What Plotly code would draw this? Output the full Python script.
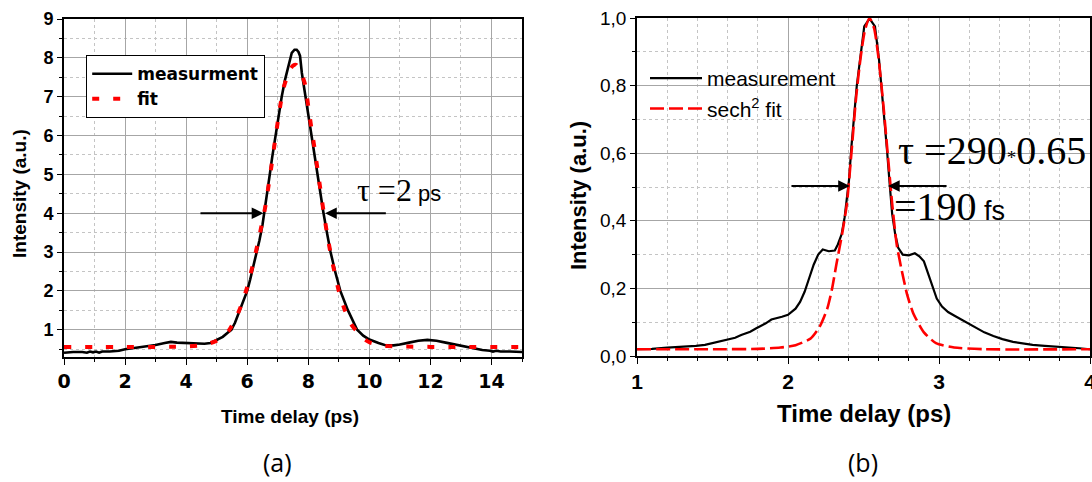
import plotly.graph_objects as go

# ---------------- data ----------------
# (a) autocorrelation, ps
meas_a_x = [0.0, 0.3, 0.6, 0.75, 0.85, 0.95, 1.05, 1.15, 1.25, 1.5,
            1.8, 2.0, 2.3, 2.6, 3.0, 3.3, 3.5, 3.7, 4.0, 4.3,
            4.6, 4.8, 5.0, 5.2, 5.35, 5.48, 5.6, 5.7, 5.8, 5.9,
            6.0, 6.1, 6.2, 6.3, 6.4, 6.5, 6.55, 6.65, 6.74, 6.82,
            6.91, 7.02, 7.13, 7.24, 7.35, 7.46, 7.55, 7.62, 7.68, 7.73,
            7.79, 7.9, 8.0, 8.1, 8.2, 8.3, 8.4, 8.5, 8.6, 8.73,
            8.88, 9.05, 9.3, 9.6, 9.8, 10.0, 10.3, 10.5, 10.8, 11.0,
            11.3, 11.6, 11.9, 12.2, 12.5, 12.8, 13.1, 13.4, 13.7, 13.95,
            14.05, 14.15, 14.3, 14.6, 15.0]
meas_a_y = [0.41, 0.43, 0.43, 0.41, 0.44, 0.42, 0.44, 0.41, 0.44, 0.44,
            0.46, 0.50, 0.53, 0.56, 0.61, 0.66, 0.69, 0.67, 0.66, 0.65,
            0.64, 0.66, 0.74, 0.82, 0.92, 1.0, 1.18, 1.38, 1.6, 1.8,
            2.0, 2.3, 2.62, 2.95, 3.3, 3.7, 4.0, 4.5, 5.0, 5.45,
            5.9, 6.5, 7.0, 7.44, 7.78, 8.13, 8.21, 8.21, 8.15, 8.05,
            7.61, 7.05, 6.5, 5.95, 5.5, 5.0, 4.5, 4.0, 3.55, 3.0,
            2.5, 2.0, 1.5, 1.0, 0.85, 0.75, 0.66, 0.61, 0.60, 0.62,
            0.67, 0.72, 0.74, 0.72, 0.67, 0.62, 0.57, 0.52, 0.48, 0.46,
            0.44, 0.46, 0.44, 0.44, 0.43]

fit_a_x = [0.0, 1.0, 2.0, 3.0, 3.5, 4.0, 4.5, 4.8, 5.0, 5.2,
           5.4, 5.6, 5.8, 6.0, 6.2, 6.4, 6.6, 6.8, 6.9, 7.0,
           7.1, 7.2, 7.3, 7.4, 7.5, 7.6, 7.7, 7.8, 7.9, 8.0,
           8.1, 8.2, 8.3, 8.4, 8.5, 8.6, 8.7, 8.8, 9.0, 9.2,
           9.4, 9.6, 9.8, 10.0, 10.3, 10.6, 11.0, 12.0, 13.0, 15.0]
fit_a_y = [0.56, 0.56, 0.56, 0.56, 0.565, 0.57, 0.60, 0.66, 0.72, 0.82,
           0.98, 1.25, 1.62, 2.1, 2.72, 3.42, 4.2, 5.25, 5.8, 6.35,
           6.85, 7.25, 7.5, 7.7, 7.8, 7.82, 7.72, 7.55, 7.3, 6.75,
           6.2, 5.7, 5.15, 4.6, 4.05, 3.55, 3.1, 2.7, 2.0, 1.5,
           1.15, 0.95, 0.78, 0.68, 0.62, 0.58, 0.57, 0.56, 0.56, 0.56]

# (b) autocorrelation, normalised
meas_b_x = [1.0, 1.1, 1.2, 1.3, 1.39, 1.45, 1.49, 1.55, 1.59, 1.65,
            1.69, 1.75, 1.79, 1.85, 1.89, 1.93, 1.96, 2.0, 2.05, 2.08,
            2.11, 2.14, 2.17, 2.2, 2.23, 2.27, 2.31, 2.33, 2.355, 2.375,
            2.39, 2.404, 2.42, 2.437, 2.455, 2.477, 2.505, 2.54, 2.576, 2.603,
            2.62, 2.636, 2.654, 2.675, 2.69, 2.71, 2.73, 2.76, 2.80, 2.84,
            2.87, 2.90, 2.94, 2.985, 3.02, 3.06, 3.1, 3.18, 3.25, 3.3,
            3.36, 3.42, 3.49, 3.55, 3.62, 3.7, 3.78, 3.85, 3.93, 4.0]
meas_b_y = [0.02, 0.021, 0.025, 0.027, 0.03, 0.033, 0.037, 0.042, 0.047, 0.054,
            0.062, 0.072, 0.082, 0.096, 0.108, 0.112, 0.116, 0.122, 0.14, 0.16,
            0.19, 0.23, 0.27, 0.30, 0.315, 0.31, 0.312, 0.33, 0.36, 0.41,
            0.46, 0.52, 0.619, 0.708, 0.797, 0.876, 0.975, 0.998, 0.975, 0.876,
            0.797, 0.708, 0.619, 0.50, 0.42, 0.36, 0.32, 0.30, 0.298, 0.304,
            0.295, 0.28, 0.225, 0.17, 0.146, 0.13, 0.12, 0.10, 0.082, 0.07,
            0.059, 0.05, 0.042, 0.037, 0.033, 0.03, 0.028, 0.025, 0.023, 0.02]

fit_b_x = [1.0, 1.5, 1.8, 1.95, 2.05, 2.15, 2.21, 2.26, 2.29, 2.32,
           2.36, 2.39, 2.42, 2.45, 2.48, 2.51, 2.54, 2.57, 2.60, 2.63,
           2.66, 2.69, 2.72, 2.75, 2.79, 2.83, 2.90, 2.98, 3.1, 3.3,
           4.0]
fit_b_y = [0.02, 0.02, 0.021, 0.025, 0.032, 0.052, 0.087, 0.14, 0.195, 0.27,
           0.365, 0.45, 0.60, 0.76, 0.88, 0.965, 1.0, 0.97, 0.88, 0.75,
           0.60, 0.45, 0.33, 0.26, 0.18, 0.126, 0.07, 0.038, 0.025, 0.02,
           0.02]

# tick labels
xa_ticks = [0, 2, 4, 6, 8, 10, 12, 14]
ya_ticks = [1, 2, 3, 4, 5, 6, 7, 8, 9]
xb_ticks = [1, 2, 3, 4]
yb_ticks = [0.0, 0.2, 0.4, 0.6, 0.8, 1.0]
yb_text = ["0,0", "0,2", "0,4", "0,6", "0,8", "1,0"]

# FWHM markers
fwhm_a_y = 4.0
fwhm_a_heads = [6.53, 8.55]
fwhm_a_tails = [4.42, 10.59]
fwhm_b_y = 0.503
fwhm_b_heads = [2.41, 2.662]
fwhm_b_tails = [2.013, 3.06]

# ---------------- figure ----------------
W, H = 1092, 482
GRID = "#a6a6a6"
MINOR_GRID = "#c4c4c4"

fig = go.Figure()
fig.add_trace(go.Scatter(x=meas_a_x, y=meas_a_y, mode="lines", name="measurment",
                         line=dict(color="black", width=2.6), xaxis="x", yaxis="y",
                         legend="legend"))
fig.add_trace(go.Scatter(x=fit_a_x, y=fit_a_y, mode="lines", name="fit",
                         line=dict(color="red", width=4, dash="7px,14px", shape="spline", smoothing=0.6),
                         xaxis="x", yaxis="y", legend="legend"))
fig.add_trace(go.Scatter(x=meas_b_x, y=meas_b_y, mode="lines", name="measurement",
                         line=dict(color="black", width=2.2), xaxis="x2", yaxis="y2",
                         legend="legend2"))
fig.add_trace(go.Scatter(x=fit_b_x, y=fit_b_y, mode="lines", name="sech<sup>2</sup> fit",
                         line=dict(color="red", width=2.6, dash="14px,5px", shape="spline", smoothing=0.6),
                         xaxis="x2", yaxis="y2", legend="legend2"))


def ax_common():
    return dict(showline=True, linecolor="black", linewidth=1.6, mirror=True,
                ticks="outside", tickcolor="black", tickwidth=1.4, ticklen=6,
                showgrid=True, gridcolor=GRID, gridwidth=1, zeroline=False,
                automargin=False, ticklabeloverflow="allow")


xa = ax_common()
xa.update(domain=[64 / W, 522 / W], range=[0, 15], tickvals=xa_ticks, anchor="y",
          tickfont=dict(family="DejaVu Sans", size=19, color="black", weight="bold"),
          minor=dict(dtick=1, tick0=0, ticks="outside", ticklen=3, tickcolor="black",
                     showgrid=True, gridcolor=MINOR_GRID, griddash="dot"))
ya = ax_common()
ya.update(domain=[1 - 357 / H, 1 - 19 / H], range=[0.3, 9], tickvals=ya_ticks, anchor="x",
          ticklen=5,
          tickfont=dict(family="Arial", size=18, color="black", weight="bold"),
          minor=dict(dtick=0.5, tick0=0, ticks="outside", ticklen=3, tickcolor="black",
                     showgrid=True, gridcolor=MINOR_GRID, griddash="dot"))
xb = ax_common()
xb.update(domain=[637 / W, 1090 / W], range=[1, 4], tickvals=xb_ticks, anchor="y2",
          tickfont=dict(family="Arial", size=21, color="black", weight="bold"),
          minor=dict(dtick=0.2, tick0=0, ticks="outside", ticklen=3, tickcolor="black",
                     showgrid=True, gridcolor=MINOR_GRID, griddash="dot"))
yb = ax_common()
yb.update(domain=[1 - 356 / H, 1 - 18 / H], range=[0, 1], tickvals=yb_ticks, ticktext=yb_text,
          anchor="x2", ticklen=5,
          tickfont=dict(family="Arial", size=19, color="black"),
          minor=dict(dtick=0.1, tick0=0, ticks="outside", ticklen=3, tickcolor="black",
                     showgrid=True, gridcolor=MINOR_GRID, griddash="dot"))


def label(text, px, py, size, bold=True, family="Arial", angle=0, xanchor="center"):
    return dict(text=text, x=px / W, y=1 - py / H, xref="paper", yref="paper",
                xanchor=xanchor, yanchor="middle", textangle=angle, showarrow=False,
                font=dict(family=family, size=size, color="black",
                          weight="bold" if bold else "normal"))


annotations = [
    label("Time delay (ps)", 290, 416, 19),
    label("Time delay (ps)", 864, 413, 24),
    label("Intensity (a.u.)", 19, 194, 19, angle=-90),
    label("Intensity (a.u.)", 578, 196, 22, angle=-90),
    label("(a)", 277, 462, 25, bold=False, family="Open Sans"),
    label("(b)", 863, 462, 25, bold=False, family="Open Sans"),
    label("τ =2<span style='font-family:Arial;font-size:22px'> ps</span>", 355, 190, 32,
          bold=False, family="Liberation Serif", xanchor="left"),
    label("τ =290<span style='font-size:19px'>*</span>0.65", 896, 150, 40,
          bold=False, family="Liberation Serif", xanchor="left"),
    label("=190<span style='font-family:Arial;font-size:27px'> fs</span>", 892, 206, 40,
          bold=False, family="Liberation Serif", xanchor="left"),
]
for h, t in zip(fwhm_a_heads, fwhm_a_tails):
    annotations.append(dict(x=h, y=fwhm_a_y, ax=t, ay=fwhm_a_y, xref="x", yref="y",
                            axref="x", ayref="y", text="", showarrow=True, arrowhead=2,
                            arrowsize=1.3, arrowwidth=1.8, arrowcolor="black", standoff=0))
for h, t in zip(fwhm_b_heads, fwhm_b_tails):
    annotations.append(dict(x=h, y=fwhm_b_y, ax=t, ay=fwhm_b_y, xref="x2", yref="y2",
                            axref="x2", ayref="y2", text="", showarrow=True, arrowhead=2,
                            arrowsize=1.3, arrowwidth=1.8, arrowcolor="black", standoff=0))

fig.update_layout(
    width=W, height=H, margin=dict(l=0, r=0, t=0, b=0, autoexpand=False),
    paper_bgcolor="white", plot_bgcolor="white",
    xaxis=xa, yaxis=ya, xaxis2=xb, yaxis2=yb,
    annotations=annotations,
    legend=dict(x=86 / W, y=1 - 55 / H, xanchor="left", yanchor="top",
                bordercolor="black", borderwidth=1.2, bgcolor="white",
                font=dict(family="DejaVu Sans", size=17, color="black", weight="bold"),
                itemwidth=40, tracegroupgap=0),
    legend2=dict(x=645 / W, y=1 - 58 / H, xanchor="left", yanchor="top",
                 bgcolor="rgba(0,0,0,0)", borderwidth=0,
                 font=dict(family="Arial", size=21, color="black"),
                 itemwidth=52, tracegroupgap=0),
    showlegend=True,
)

fig.write_html("out.html", config={"displayModeBar": False},
               post_script="document.body.style.margin='0';document.body.style.overflow='hidden';")
